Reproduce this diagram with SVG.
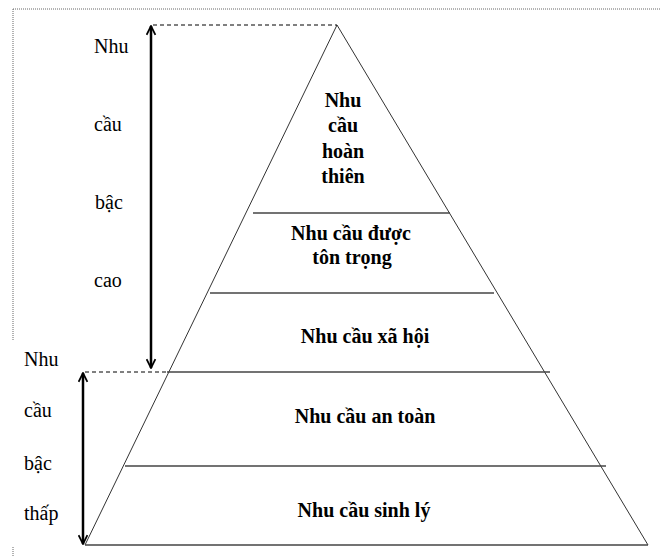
<svg xmlns="http://www.w3.org/2000/svg" width="661" height="557" viewBox="0 0 661 557">
<style>
.lvl{font-family:"Liberation Serif","Times New Roman",serif;font-size:20px;font-weight:bold;fill:#000;text-anchor:middle}
.side{font-family:"Liberation Serif","Times New Roman",serif;font-size:20px;fill:#000}
.edge{stroke:#333;stroke-width:1;fill:none}
.sep{stroke:#444;stroke-width:1.3;fill:none}
.frame{stroke:#666;stroke-width:1;stroke-dasharray:1 1;fill:none}
.dash{stroke:#000;stroke-width:1;stroke-dasharray:4 3;fill:none}
.arr{stroke:#000;stroke-width:2.5;fill:none;marker-start:url(#head);marker-end:url(#head)}
</style>
<defs>
<marker id="head" viewBox="0 0 10 10" refX="9" refY="5" markerWidth="4.4" markerHeight="4.4" orient="auto-start-reverse" markerUnits="strokeWidth">
<path d="M1,1 L9,5 L1,9" fill="none" stroke="#000" stroke-width="1.6"/>
</marker>
</defs>
<rect width="661" height="557" fill="#fff"/>
<g id="frame">
<line class="frame" x1="13" y1="9" x2="661" y2="9"/>
<line class="frame" x1="13" y1="9" x2="13" y2="340"/>
<line class="frame" x1="13" y1="547" x2="13" y2="557"/>
</g>
<g id="pyramid">
<polyline class="edge" points="85,545 337,25 648,545"/>
<line class="sep" x1="85" y1="545" x2="648" y2="545"/>
</g>
<g id="level-hoan-thien">
<text class="lvl" x="343" y="107">Nhu</text>
<text class="lvl" x="343" y="132">cầu</text>
<text class="lvl" x="343" y="158">hoàn</text>
<text class="lvl" x="343" y="183">thiên</text>
<line class="sep" x1="253" y1="213" x2="450" y2="213"/>
</g>
<g id="level-ton-trong">
<text class="lvl" x="351" y="240">Nhu cầu được</text>
<text class="lvl" x="352" y="264">tôn trọng</text>
<line class="sep" x1="210" y1="293" x2="494" y2="293"/>
</g>
<g id="level-xa-hoi">
<text class="lvl" x="365" y="343">Nhu cầu xã hội</text>
<line class="sep" x1="167" y1="372" x2="550" y2="372"/>
</g>
<g id="level-an-toan">
<text class="lvl" x="365" y="423">Nhu cầu an toàn</text>
<line class="sep" x1="125" y1="466" x2="606" y2="466"/>
</g>
<g id="level-sinh-ly">
<text class="lvl" x="364" y="517">Nhu cầu sinh lý</text>
</g>
<g id="label-bac-cao">
<text class="side" x="94" y="53">Nhu</text>
<text class="side" x="94" y="131">cầu</text>
<text class="side" x="95" y="209">bậc</text>
<text class="side" x="94" y="287">cao</text>
</g>
<g id="label-bac-thap">
<text class="side" x="24" y="366">Nhu</text>
<text class="side" x="24" y="417">cầu</text>
<text class="side" x="24" y="470">bậc</text>
<text class="side" x="24" y="520">thấp</text>
</g>
<g id="connectors">
<line class="dash" x1="153" y1="25" x2="337" y2="25"/>
<line class="dash" x1="85" y1="372" x2="167" y2="372"/>
<line class="arr" x1="151" y1="26" x2="151" y2="368"/>
<line class="arr" x1="83" y1="373" x2="83" y2="544"/>
</g>
</svg>
